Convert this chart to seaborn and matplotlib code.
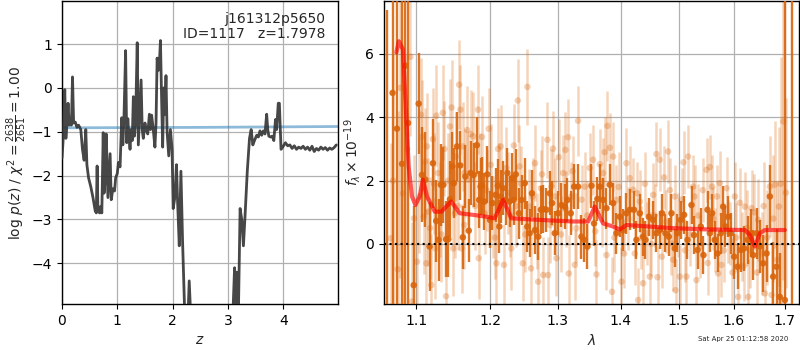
import matplotlib
matplotlib.use("Agg")
import matplotlib.pyplot as plt
from matplotlib.ticker import NullLocator, FixedLocator, FixedFormatter
import numpy as np
import pandas as pd
import seaborn as sns

# ---------------- redshift probability ----------------
pz_z = [0.00, 0.02, 0.05, 0.07, 0.09, 0.11, 0.13, 0.15, 0.17, 0.19, 0.21, 0.24,
        0.27, 0.30, 0.34, 0.37, 0.40, 0.43, 0.45, 0.48, 0.52, 0.56, 0.60, 0.62,
        0.635, 0.65, 0.68, 0.70, 0.72, 0.745, 0.76, 0.78, 0.80, 0.83, 0.85, 0.87,
        0.89, 0.92, 0.95, 0.97, 1.00, 1.02, 1.05, 1.08, 1.10, 1.12, 1.15, 1.17,
        1.19, 1.21, 1.23, 1.25, 1.27, 1.29, 1.31, 1.33, 1.36, 1.38, 1.40, 1.43,
        1.45, 1.47, 1.50, 1.52, 1.55, 1.58, 1.60, 1.62, 1.65, 1.68, 1.70, 1.72,
        1.74, 1.76, 1.78, 1.80, 1.82, 1.84, 1.86, 1.88, 1.90, 1.93, 1.96, 1.99,
        2.01, 2.04, 2.07, 2.09, 2.12, 2.15, 2.18, 2.22, 2.27, 2.30, 2.33, 2.45,
        2.70, 2.95, 3.08, 3.12, 3.14, 3.16, 3.19, 3.22, 3.25, 3.28, 3.31, 3.35,
        3.39, 3.42, 3.45, 3.48, 3.52, 3.55, 3.58, 3.61, 3.64, 3.67, 3.70, 3.72,
        3.74, 3.77, 3.80, 3.83, 3.86, 3.88, 3.91, 3.93, 3.96, 3.99, 4.04, 4.08,
        4.12, 4.16, 4.20, 4.24, 4.28, 4.32, 4.36, 4.40, 4.44, 4.48, 4.52, 4.56,
        4.60, 4.64, 4.68, 4.72, 4.76, 4.80, 4.84, 4.88, 4.92, 4.96]
pz_logp = [-1.60, -1.20, -0.04, -1.15, -0.80, -0.35, -0.85, -0.75, -0.85, 0.25, -0.80, -0.78,
           -0.90, -0.85, -0.95, -1.40, -1.65, -0.95, -1.75, -2.05, -2.25, -2.50, -2.80, -2.85,
           -1.78, -2.80, -2.85, -2.70, -2.85, -1.02, -2.40, -2.10, -1.05, -2.50, -2.00, -1.50,
           -2.55, -2.30, -2.35, -2.05, -1.95, -1.70, -1.80, -0.68, -1.30, -0.70, 0.85, -1.25,
           -0.70, -1.10, -1.40, -0.95, -1.20, -0.20, -1.10, -0.80, 1.03, -1.30, -0.70, 0.18,
           -0.95, -1.15, -0.80, -0.95, -1.05, -0.60, -0.95, -0.62, -0.95, -1.35, -0.80, 0.68,
           0.40, 0.55, 1.08, -0.20, -1.35, 0.00, -0.60, 0.28, -1.00, -1.55, -0.95, -1.40,
           -2.75, -2.50, -1.75, -2.60, -3.60, -1.90, -3.50, -5.20, -5.50, -4.40, -5.30, -8.00,
           -10.0, -8.00, -5.50, -4.10, -4.95, -4.20, -5.10, -2.75, -3.00, -3.60, -2.90, -1.90,
           -1.15, -0.95, -1.30, -1.20, -1.08, -1.12, -0.98, -1.08, -0.98, -1.05, -0.60, -0.95,
           -1.10, -1.12, -1.10, -1.20, -0.72, -0.95, -0.35, -0.35, -1.40, -1.35, -1.25, -1.32,
           -1.30, -1.38, -1.32, -1.40, -1.35, -1.38, -1.33, -1.40, -1.35, -1.42, -1.33, -1.45,
           -1.38, -1.42, -1.35, -1.40, -1.36, -1.42, -1.37, -1.40, -1.36, -1.30]
chi2_z = [0.0, 2.5, 4.99]
chi2_level = [-0.91, -0.90, -0.88]
z_ticks = [0, 1, 2, 3, 4]
logp_ticks = [-4, -3, -2, -1, 0, 1]

# ---------------- binned spectrum ----------------
spec_wave = [1.0620, 1.0695, 1.0750, 1.0815, 1.0858, 1.0892, 1.0965, 1.1030, 1.1073, 1.1117,
             1.1173, 1.1217, 1.1261, 1.1292, 1.1322, 1.1357, 1.1392, 1.1423, 1.1445, 1.1479,
             1.1497, 1.1541, 1.1585, 1.1620, 1.1656, 1.1702, 1.1728, 1.1771, 1.1815, 1.1845,
             1.1867, 1.1889, 1.1920, 1.1963, 1.1999, 1.2035, 1.2079, 1.2111, 1.2133, 1.2155,
             1.2187, 1.2224, 1.2248, 1.2280, 1.2316, 1.2339, 1.2371, 1.2417, 1.2456, 1.2503,
             1.2541, 1.2574, 1.2609, 1.2656, 1.2704, 1.2743, 1.2782, 1.2827, 1.2878, 1.2913,
             1.2954, 1.3005, 1.3057, 1.3108, 1.3150, 1.3201, 1.3253, 1.3316, 1.3369, 1.3410,
             1.3464, 1.3528, 1.3569, 1.3624, 1.3662, 1.3715, 1.3770, 1.3824, 1.3878, 1.3933,
             1.3988, 1.4043, 1.4099, 1.4154, 1.4226, 1.4266, 1.4323, 1.4379, 1.4419, 1.4476,
             1.4550, 1.4608, 1.4665, 1.4705, 1.4764, 1.4822, 1.4869, 1.4927, 1.4975, 1.5034,
             1.5092, 1.5153, 1.5225, 1.5271, 1.5334, 1.5394, 1.5442, 1.5516, 1.5558, 1.5600,
             1.5651, 1.5700, 1.5762, 1.5805, 1.5849, 1.5898, 1.5949, 1.6011, 1.6076, 1.6139,
             1.6202, 1.6268, 1.6332, 1.6376, 1.6442, 1.6506, 1.6570, 1.6637, 1.6702, 1.6767,
             1.6834, 1.6900, 1.7000, 1.7146]
spec_flux = [-2.60, 4.77, 3.64, 2.53, 5.63, 3.82, -1.30, 4.43, 2.18, 2.03,
             -0.08, 2.55, 0.73, 0.13, 1.87, 1.87, 0.15, 0.15, 1.41, 2.45,
             1.92, 3.08, 2.48, 0.21, 2.13, 0.42, 2.24, 2.18, 3.12, 1.39,
             1.81, 1.84, 1.34, 2.20, 0.76, 1.29, 1.55, 1.84, 0.55, 1.50,
             1.76, 1.39, 2.24, 1.34, 2.08, 1.39, 2.20, 0.97, 1.39, 1.92,
             0.55, 0.34, 1.60, 0.44, 0.23, 1.08, 1.10, 1.08, 1.60, 1.29,
             0.34, 0.97, 1.23, 1.18, 1.39, 0.97, 1.81, 1.81, 0.23, 0.13,
             -0.08, 1.84, 0.65, 1.42, 1.81, 1.39, 1.13, 1.87, 1.29, 0.34,
             0.86, 0.44, 0.97, 1.08, 1.08, 0.13, 0.97, 0.23, 0.13, 0.86,
             0.76, 0.34, 0.44, 0.97, 0.34, 0.23, 0.97, -0.14, 0.34, 0.76,
             0.92, 0.13, 1.23, 0.28, -0.19, 0.55, -0.35, 1.08, 0.34, 0.97,
             0.13, -0.30, 0.34, 1.18, 0.55, 0.86, 0.34, -0.40, -0.72, -0.19,
             -0.14, 0.13, 0.34, -0.35, 0.34, -0.08, -0.61, -0.30, 1.50, -1.03,
             -0.72, -1.67, -1.77, -3.00]
spec_err = [10.0, 9.0, 9.0, 9.0, 8.0, 6.0, 2.5, 1.6, 1.5, 1.5,
            1.4, 1.4, 1.3, 1.3, 1.3, 1.2, 1.2, 1.2, 1.2, 1.1,
            1.1, 1.1, 1.1, 1.0, 1.0, 1.0, 1.0, 1.0, 0.9, 0.9,
            0.9, 0.9, 0.9, 0.9, 0.9, 0.85, 0.85, 0.85, 0.85, 0.85,
            0.85, 0.8, 0.8, 0.8, 0.8, 0.8, 0.8, 0.8, 0.8, 0.8,
            0.8, 0.75, 0.75, 0.75, 0.75, 0.75, 0.75, 0.7, 0.7, 0.7,
            0.7, 0.7, 0.7, 0.7, 0.7, 0.7, 0.7, 0.7, 0.7, 0.7,
            0.7, 0.7, 0.7, 0.7, 0.7, 0.7, 0.65, 0.65, 0.65, 0.65,
            0.65, 0.65, 0.65, 0.65, 0.6, 0.6, 0.6, 0.6, 0.6, 0.6,
            0.6, 0.6, 0.6, 0.6, 0.6, 0.6, 0.6, 0.6, 0.6, 0.6,
            0.6, 0.6, 0.6, 0.6, 0.6, 0.6, 0.6, 0.6, 0.6, 0.6,
            0.6, 0.6, 0.65, 0.65, 0.65, 0.65, 0.65, 0.7, 0.7, 0.7,
            0.7, 0.75, 0.75, 0.8, 0.8, 0.85, 0.9, 0.9, 1.0, 1.1,
            1.2, 1.4, 10.0, 12.0]

# ---------------- individual beam spectra ----------------
beam_wave = [1.0671, 1.0793, 1.0827, 1.0922, 1.0943, 1.0970, 1.1008, 1.1060, 1.1069, 1.1095,
             1.1130, 1.1138, 1.1157, 1.1196, 1.1217, 1.1247, 1.1261, 1.1283, 1.1305, 1.1349,
             1.1371, 1.1393, 1.1446, 1.1467, 1.1490, 1.1512, 1.1525, 1.1570, 1.1587, 1.1605,
             1.1623, 1.1645, 1.1692, 1.1729, 1.1761, 1.1831, 1.1841, 1.1887, 1.1925, 1.1981,
             1.2043, 1.2091, 1.2114, 1.2152, 1.2199, 1.2256, 1.2305, 1.2343, 1.2401, 1.2425,
             1.2473, 1.2542, 1.2572, 1.2596, 1.2655, 1.2703, 1.2743, 1.2778, 1.2842, 1.2851,
             1.2903, 1.2928, 1.2980, 1.3015, 1.3081, 1.3118, 1.3159, 1.3170, 1.3212, 1.3264,
             1.3316, 1.3421, 1.3553, 1.3608, 1.3662, 1.3714, 1.3770, 1.3786, 1.3824, 1.3861,
             1.3878, 1.3933, 1.4016, 1.4099, 1.4155, 1.4210, 1.4238, 1.4294, 1.4322, 1.4378,
             1.4437, 1.4493, 1.4550, 1.4608, 1.4626, 1.4665, 1.4740, 1.4810, 1.4869, 1.4927,
             1.4940, 1.5016, 1.5082, 1.5135, 1.5164, 1.5254, 1.5315, 1.5375, 1.5498, 1.5558,
             1.5600, 1.5651, 1.5711, 1.5743, 1.5774, 1.5868, 1.5930, 1.6025, 1.6088, 1.6152,
             1.6216, 1.6280, 1.6345, 1.6473, 1.6538, 1.6603, 1.6702, 1.6735, 1.6801, 1.6881,
             1.6967, 1.7021,
             1.0700, 1.0760, 1.0880, 1.1040, 1.1110, 1.1180, 1.1230, 1.1330, 1.1420, 1.1555,
             1.1640, 1.1680, 1.1790, 1.1860, 1.1950, 1.2010, 1.2070, 1.2130, 1.2230, 1.2290,
             1.2370, 1.2450, 1.2510, 1.2620, 1.2680, 1.2760, 1.2880, 1.2960, 1.3050, 1.3130,
             1.3230, 1.3290, 1.3370, 1.3460, 1.3500, 1.3590, 1.3690, 1.3740, 1.3900, 1.3970,
             1.4060, 1.4130, 1.4280, 1.4350, 1.4410, 1.4520, 1.4580, 1.4700, 1.4780, 1.4840,
             1.4900, 1.4990, 1.5050, 1.5110, 1.5200, 1.5280, 1.5350, 1.5430, 1.5520, 1.5620,
             1.5690, 1.5820, 1.5890, 1.5980, 1.6050, 1.6120, 1.6190, 1.6250, 1.6320, 1.6400,
             1.6450, 1.6580, 1.6650, 1.6770, 1.6850, 1.6920]
beam_flux = [0.18, 4.93, 1.60, 5.91, -1.82, 0.81, -0.56, 4.08, 3.38, 0.86,
             -0.61, 3.08, 1.02, -1.30, 3.31, -0.14, 4.05, 2.24, 1.08, 4.14,
             3.00, -1.65, 3.71, 4.31, -0.14, 0.97, 2.76, 5.03, 4.24, -0.14,
             3.08, 2.24, 2.03, 3.47, 3.40, 4.24, -0.45, 3.38, 0.97, 3.64,
             0.86, -0.61, 3.00, 3.08, -0.66, 1.60, -0.14, 3.11, 4.53, 2.45,
             -0.61, 4.96, 1.18, -0.77, 2.55, -1.19, 1.76, -0.98, 3.29, -0.98,
             1.81, 3.01, -0.45, 2.74, 2.24, 2.97, 3.37, -0.93, 1.50, -0.66,
             3.89, 1.81, 2.66, -0.96, 2.52, 2.24, -0.35, 3.73, 3.04, -1.51,
             2.76, 1.39, -1.19, 2.55, 2.08, 1.71, -0.30, -1.77, 1.34, -1.24,
             0.34, -1.03, 1.55, 2.84, -1.05, 2.66, 2.10, 2.92, 0.02, 1.50,
             -1.46, -1.03, 2.58, -1.03, 2.76, 1.81, -1.14, -0.08, 2.34, 2.43,
             1.81, 0.13, -0.93, 1.92, -0.66, 1.76, 0.34, 1.50, -1.67, -0.08,
             1.18, -1.67, 1.13, 0.76, -0.30, -1.56, 1.81, -1.61, 1.87, 1.18,
             3.87, 1.62,
             2.0, -0.8, 3.0, 1.5, 2.6, 0.5, 1.9, 0.3, 2.0, 1.2,
             0.6, 3.6, 1.2, 2.2, 1.7, 2.5, 0.2, 1.9, 2.4, 0.9,
             1.2, 1.9, 0.3, 1.5, 0.4, 2.2, 0.6, 1.5, 0.3, 1.1,
             2.3, 0.5, 1.4, 0.9, 2.4, 0.4, 1.0, 2.9, 0.2, 1.8,
             -0.3, 0.8, 1.6, 0.2, 1.9, 0.0, 0.9, -0.4, 0.7, 1.7,
             -0.5, 0.6, 1.4, -0.2, 0.3, 1.5, 0.9, 1.7, -0.6, 0.8,
             1.5, -0.2, 0.4, -0.9, 0.2, 1.3, -0.7, 0.5, -0.2, 1.0,
             -0.9, 1.2, 0.2, 0.8, -0.5, 1.9]
beam_err = [3.0, 6.0, 4.0, 2.5, 2.5, 2.0, 2.0, 1.8, 1.8, 1.8,
            1.7, 1.7, 1.7, 1.6, 1.6, 1.6, 1.6, 1.6, 1.5, 1.5,
            1.5, 1.5, 1.5, 1.5, 1.5, 1.4, 1.4, 1.4, 1.4, 1.4,
            1.4, 1.4, 1.4, 1.4, 1.4, 1.4, 1.3, 1.3, 1.3, 1.3,
            1.3, 1.3, 1.3, 1.3, 1.3, 1.3, 1.3, 1.3, 1.3, 1.3,
            1.2, 1.2, 1.2, 1.2, 1.2, 1.2, 1.2, 1.2, 1.2, 1.2,
            1.2, 1.2, 1.2, 1.2, 1.2, 1.2, 1.2, 1.2, 1.1, 1.1,
            1.1, 1.1, 1.1, 1.1, 1.1, 1.1, 1.1, 1.1, 1.1, 1.1,
            1.1, 1.1, 1.1, 1.1, 1.0, 1.0, 1.0, 1.0, 1.0, 1.0,
            1.0, 1.0, 1.0, 1.0, 1.0, 1.0, 1.0, 1.0, 1.0, 1.0,
            1.0, 1.0, 1.0, 1.0, 1.0, 1.0, 1.0, 1.0, 1.0, 1.0,
            1.0, 1.0, 1.0, 1.0, 1.0, 1.0, 1.0, 1.1, 1.1, 1.1,
            1.1, 1.2, 1.2, 1.3, 1.3, 1.4, 1.6, 1.6, 2.0, 2.5,
            5.0, 3.0,
            4.0, 5.0, 3.0, 1.8, 1.7, 1.6, 1.6, 1.5, 1.5, 1.4,
            1.4, 1.4, 1.4, 1.3, 1.3, 1.3, 1.3, 1.3, 1.3, 1.3,
            1.3, 1.2, 1.2, 1.2, 1.2, 1.2, 1.2, 1.2, 1.2, 1.2,
            1.1, 1.1, 1.1, 1.1, 1.1, 1.1, 1.1, 1.1, 1.1, 1.1,
            1.1, 1.0, 1.0, 1.0, 1.0, 1.0, 1.0, 1.0, 1.0, 1.0,
            1.0, 1.0, 1.0, 1.0, 1.0, 1.0, 1.0, 1.0, 1.0, 1.0,
            1.0, 1.0, 1.0, 1.1, 1.1, 1.1, 1.1, 1.2, 1.2, 1.2,
            1.3, 1.4, 1.5, 2.0, 2.5, 4.0]

# ---------------- best-fit template ----------------
model_wave = [1.0743, 1.0775, 1.0826, 1.0858, 1.0900, 1.0943, 1.0987, 1.1043, 1.1085, 1.1139,
              1.1241, 1.1330, 1.1460, 1.1506, 1.1578, 1.1761, 1.1949, 1.2067, 1.2186, 1.2307,
              1.2726, 1.3237, 1.3475, 1.3581, 1.3715, 1.3878, 1.3989, 1.4099, 1.4323, 1.4898,
              1.5498, 1.6216, 1.6312, 1.6409, 1.6506, 1.6603, 1.7000]
model_flux = [6.05, 6.40, 6.14, 4.56, 2.45, 1.50, 1.23, 1.50, 2.03, 1.50,
              1.02, 1.02, 1.34, 1.20, 0.97, 0.92, 0.86, 0.81, 1.39, 0.81,
              0.76, 0.71, 0.71, 1.18, 0.65, 0.55, 0.46, 0.60, 0.57, 0.50,
              0.46, 0.44, 0.28, -0.08, 0.34, 0.44, 0.44]
lam_ticks = [1.1, 1.2, 1.3, 1.4, 1.5, 1.6, 1.7]
flux_ticks = [0, 2, 4, 6]

SPEC_COLOR = "#d9650c"

sns.set_style("ticks")
plt.rcParams.update({
    "font.family": ["DejaVu Sans"],
    "font.size": 10,
    "xtick.labelsize": 10,
    "ytick.labelsize": 10,
    "axes.labelsize": 10,
    "axes.edgecolor": "black",
    "xtick.color": "black",
    "ytick.color": "black",
    "axes.linewidth": 1.0,
})

fig = plt.figure(figsize=(8, 3.5), dpi=100)
ax1 = fig.add_axes([0.0775, 0.131, 0.345, 0.866])
ax2 = fig.add_axes([0.480, 0.131, 0.519, 0.866])

# ---- left: log p(z)
pz_df = pd.DataFrame({"z": pz_z, "logp": pz_logp})
chi_df = pd.DataFrame({"z": chi2_z, "level": chi2_level})
sns.lineplot(data=chi_df, x="z", y="level", ax=ax1, color="tab:blue", alpha=0.5,
             lw=2, sort=False, estimator=None, zorder=2)
sns.lineplot(data=pz_df, x="z", y="logp", ax=ax1, color="0.2", alpha=0.9,
             lw=2, sort=False, estimator=None, zorder=3)
ax1.set_xlim(0, 4.99)
ax1.set_ylim(-4.93, 1.98)
ax1.set_xticks(z_ticks)
ax1.set_yticks(logp_ticks)
ax1.grid(True, color="#b0b0b0", lw=0.9)
ax1.set_axisbelow(True)
ax1.set_xlabel("$z$")
ax1.set_ylabel(r"log $p(z)$ / $\chi^2=\frac{2638}{2651}=1.00$", labelpad=2)
ax1.text(0.955, 0.965, "j161312p5650\nID=1117   z=1.7978", transform=ax1.transAxes,
         ha="right", va="top", fontsize=10, linespacing=1.15)

# ---- right: spectrum
beam_df = pd.DataFrame({"wave": beam_wave, "flux": beam_flux, "err": beam_err})
spec_df = pd.DataFrame({"wave": spec_wave, "flux": spec_flux, "err": spec_err})
model_df = pd.DataFrame({"wave": model_wave, "flux": model_flux})

ax2.errorbar(beam_df["wave"], beam_df["flux"], yerr=beam_df["err"], fmt="none",
             ecolor=SPEC_COLOR, elinewidth=1.8, alpha=0.28, zorder=2)
sns.scatterplot(data=beam_df, x="wave", y="flux", ax=ax2, color=SPEC_COLOR,
                s=22, alpha=0.3, edgecolor="none", zorder=2, legend=False)
ax2.errorbar(spec_df["wave"], spec_df["flux"], yerr=spec_df["err"], fmt="none",
             ecolor=SPEC_COLOR, elinewidth=1.7, alpha=0.9, zorder=3)
sns.scatterplot(data=spec_df, x="wave", y="flux", ax=ax2, color=SPEC_COLOR,
                s=22, alpha=0.9, edgecolor="none", zorder=3, legend=False)
sns.lineplot(data=model_df, x="wave", y="flux", ax=ax2, color="red", alpha=0.65,
             lw=3, sort=False, estimator=None, zorder=4)
ax2.axhline(0, color="black", ls=":", lw=1.5, zorder=5)

ax2.set_xscale("log")
ax2.set_xlim(1.0587, 1.7291)
ax2.set_ylim(-1.90, 7.67)
ax2.xaxis.set_major_locator(FixedLocator(lam_ticks))
ax2.xaxis.set_major_formatter(FixedFormatter([f"{t:.1f}" for t in lam_ticks]))
ax2.xaxis.set_minor_locator(NullLocator())
ax2.set_yticks(flux_ticks)
ax2.grid(True, color="#b0b0b0", lw=0.9)
ax2.set_axisbelow(True)
ax2.set_xlabel(r"$\lambda$")
ax2.set_ylabel(r"$f_\lambda\times10^{-19}$", labelpad=2)

for ax in (ax1, ax2):
    for sp in ax.spines.values():
        sp.set_visible(True)
        sp.set_color("black")

fig.text(0.985, 0.031, "Sat Apr 25 01:12:58 2020", ha="right", va="center", fontsize=5)

fig.savefig("out.png", dpi=100)
